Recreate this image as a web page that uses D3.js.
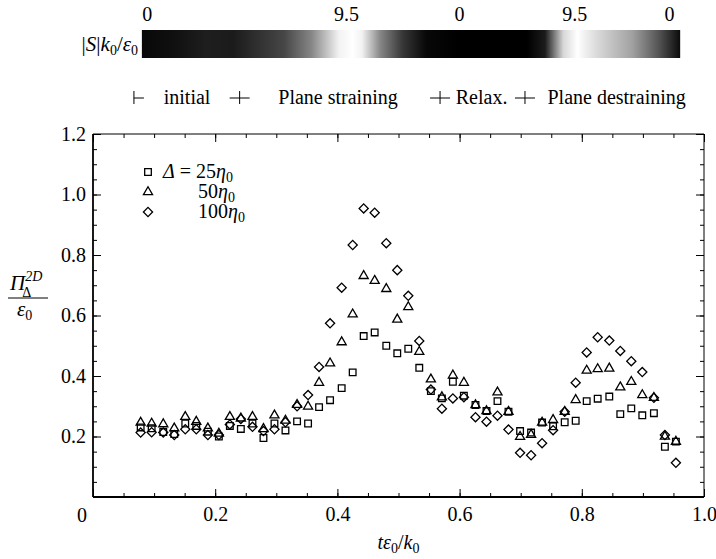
<!DOCTYPE html>
<html>
<head>
<meta charset="utf-8">
<script src="https://cdn.jsdelivr.net/npm/d3@7/dist/d3.min.js"></script>
<style>
  body { margin: 0; background: #fff; }
  text { font-family: "Liberation Serif", "Times New Roman", serif; fill: #000; }
</style>
</head>
<body>
<svg id="chart" width="716" height="559"></svg>
<script>
// time samples t*eps0/k0
var tVals = [0.078, 0.096, 0.115, 0.133, 0.151, 0.169, 0.188, 0.206, 0.224, 0.242,
             0.261, 0.279, 0.297, 0.315, 0.334, 0.352, 0.370, 0.388, 0.407, 0.425,
             0.443, 0.461, 0.480, 0.498, 0.516, 0.534, 0.553, 0.571, 0.589, 0.607,
             0.626, 0.644, 0.662, 0.680, 0.699, 0.717, 0.735, 0.753, 0.772, 0.790,
             0.808, 0.826, 0.845, 0.863, 0.881, 0.899, 0.918, 0.936, 0.954];
// Delta = 25 eta0 (squares)
var sq25 = [0.230, 0.227, 0.215, 0.208, 0.243, 0.235, 0.216, 0.200, 0.235, 0.225,
            0.243, 0.195, 0.243, 0.220, 0.250, 0.243, 0.297, 0.320, 0.360, 0.412,
            0.532, 0.544, 0.500, 0.475, 0.490, 0.427, 0.350, 0.326, 0.381, 0.335,
            0.304, 0.284, 0.317, 0.282, 0.218, 0.213, 0.246, 0.234, 0.247, 0.252,
            0.317, 0.325, 0.332, 0.274, 0.293, 0.270, 0.277, 0.166, 0.183];
// 50 eta0 (triangles)
var tri50 = [0.246, 0.243, 0.241, 0.227, 0.265, 0.249, 0.227, 0.210, 0.265, 0.260,
             0.265, 0.225, 0.270, 0.253, 0.305, 0.299, 0.378, 0.442, 0.512, 0.604,
             0.731, 0.715, 0.688, 0.587, 0.628, 0.480, 0.389, 0.330, 0.402, 0.378,
             0.304, 0.284, 0.346, 0.282, 0.199, 0.206, 0.246, 0.255, 0.282, 0.321,
             0.418, 0.423, 0.425, 0.363, 0.381, 0.337, 0.328, 0.200, 0.183];
// 100 eta0 (diamonds)
var dia100 = [0.213, 0.214, 0.213, 0.205, 0.224, 0.224, 0.205, 0.205, 0.240, 0.258,
              0.232, 0.218, 0.224, 0.247, 0.300, 0.337, 0.430, 0.574, 0.692, 0.833,
              0.954, 0.940, 0.839, 0.750, 0.665, 0.516, 0.355, 0.292, 0.326, 0.330,
              0.264, 0.249, 0.269, 0.223, 0.146, 0.138, 0.178, 0.221, 0.282, 0.378,
              0.478, 0.528, 0.517, 0.483, 0.449, 0.413, 0.328, 0.205, 0.113];

var xTickLabels = [0.2, 0.4, 0.6, 0.8, 1.0];
var yTickLabels = [0.2, 0.4, 0.6, 0.8, 1.0, 1.2];

// strain-rate bar: position along bar (0..1) and |S|k0/eps0
var barPos = [0, 0.06, 0.119, 0.17, 0.204, 0.264, 0.315, 0.366, 0.391, 0.409, 0.443, 0.485,
              0.528, 0.587, 0.715, 0.749, 0.783, 0.809, 0.843, 0.911, 0.962, 1];
var barS   = [0.3, 0.6, 1.1, 1.0, 1.6, 2.6, 5.0, 9.0, 9.5, 9.0, 5.0, 2.0,
              0.3, 0.0, 0.0, 1.0, 8.0, 9.5, 8.2, 6.0, 3.0, 0.4];
var barTickPos = [0.01, 0.38, 0.59, 0.804, 0.98];
var barTickText = ["0", "9.5", "0", "9.5", "0"];

// flow phases
var phaseMarkT = [0.067, 0.24, 0.568, 0.707];
var phaseNames = ["initial", "Plane straining", "Relax.", "Plane destraining"];
var phaseNameT = [0.154, 0.401, 0.636, 0.857];

var svg = d3.select("#chart");
var pLeft = 93, pRight = 704, pTop = 134, pBottom = 497;

var x = d3.scaleLinear().domain([0, 1]).range([pLeft, pRight]);
var y = d3.scaleLinear().domain([0, 1.2]).range([pBottom, pTop]);

// ---- strain bar ----
var barX0 = x(0.08), barX1 = x(0.961);
var grey = d3.scaleLinear().domain([0, 9.5]).range(["#000", "#fff"]);
var grad = svg.append("defs").append("linearGradient").attr("id", "sbar");
grad.selectAll("stop").data(barPos).enter().append("stop")
  .attr("offset", function(d) { return d * 100 + "%"; })
  .attr("stop-color", function(d, i) { return grey(barS[i]); });
svg.append("rect")
  .attr("x", barX0).attr("y", 30)
  .attr("width", barX1 - barX0).attr("height", 28)
  .attr("fill", "url(#sbar)");
var barScale = d3.scaleLinear().domain([0, 1]).range([barX0, barX1]);
svg.selectAll(".btick").data(barTickPos).enter().append("text")
  .attr("x", function(d) { return barScale(d); })
  .attr("y", 21).attr("text-anchor", "middle")
  .style("font-size", "20px")
  .text(function(d, i) { return barTickText[i]; });

var sLab = svg.append("text").attr("x", 138).attr("y", 51)
  .attr("text-anchor", "end").style("font-size", "21px");
sLab.append("tspan").text("|");
sLab.append("tspan").style("font-style", "italic").text("S");
sLab.append("tspan").text("|");
sLab.append("tspan").style("font-style", "italic").text("k");
sLab.append("tspan").attr("dy", 4).style("font-size", "14px").text("0");
sLab.append("tspan").attr("dy", -4).text("/");
sLab.append("tspan").style("font-style", "italic").text("ε");
sLab.append("tspan").attr("dy", 4).style("font-size", "14px").text("0");

// ---- phase labels ----
var py = 98;
var marks = svg.append("g").attr("stroke", "#000").attr("stroke-width", 1);
phaseMarkT.forEach(function(t, i) {
  var mx = x(t);
  marks.append("line").attr("x1", mx).attr("x2", mx).attr("y1", py - 7).attr("y2", py + 6);
  marks.append("line").attr("x1", mx).attr("x2", mx + 10).attr("y1", py).attr("y2", py);
  if (i > 0) marks.append("line").attr("x1", mx - 10).attr("x2", mx).attr("y1", py).attr("y2", py);
});
svg.selectAll(".phase").data(phaseNames).enter().append("text")
  .attr("x", function(d, i) { return x(phaseNameT[i]); })
  .attr("y", py + 6).attr("text-anchor", "middle")
  .style("font-size", "20px")
  .text(function(d) { return d; });

// ---- axes (inward ticks on all sides) ----
var minorT = d3.range(0, 21).map(function(i) { return i * 0.05; });
var minorY = d3.range(0, 25).map(function(i) { return i * 0.05; });
var majorX = [0, 0.2, 0.4, 0.6, 0.8, 1.0];

function tickAxis(axisFn, scale, vals, size, tr) {
  var g = svg.append("g").attr("transform", tr)
    .call(axisFn(scale).tickValues(vals).tickSize(size).tickFormat(""));
  g.select(".domain").remove();
  g.selectAll("line").attr("stroke", "#000").attr("stroke-width", 1);
}
tickAxis(d3.axisBottom, x, minorT, -4, "translate(0," + pBottom + ")");
tickAxis(d3.axisBottom, x, majorX, -8, "translate(0," + pBottom + ")");
tickAxis(d3.axisTop, x, minorT, -4, "translate(0," + pTop + ")");
tickAxis(d3.axisTop, x, majorX, -8, "translate(0," + pTop + ")");
tickAxis(d3.axisLeft, y, minorY, -4, "translate(" + pLeft + ",0)");
tickAxis(d3.axisLeft, y, yTickLabels, -8, "translate(" + pLeft + ",0)");
tickAxis(d3.axisRight, y, minorY, -4, "translate(" + pRight + ",0)");
tickAxis(d3.axisRight, y, yTickLabels, -8, "translate(" + pRight + ",0)");

// frame
svg.append("line").attr("x1", pLeft).attr("x2", pRight).attr("y1", pTop).attr("y2", pTop)
  .attr("stroke", "#000").attr("stroke-width", 1);
svg.append("line").attr("x1", pRight).attr("x2", pRight).attr("y1", pTop).attr("y2", pBottom)
  .attr("stroke", "#000").attr("stroke-width", 1);
svg.append("line").attr("x1", pLeft).attr("x2", pRight).attr("y1", pBottom).attr("y2", pBottom)
  .attr("stroke", "#000").attr("stroke-width", 1.8);
svg.append("line").attr("x1", pLeft).attr("x2", pLeft).attr("y1", pTop).attr("y2", pBottom)
  .attr("stroke", "#000").attr("stroke-width", 1.8);

// tick labels
var fmt = d3.format(".1f");
var xl = svg.append("g").attr("transform", "translate(0," + pBottom + ")")
  .call(d3.axisBottom(x).tickValues(xTickLabels).tickSize(0).tickPadding(10).tickFormat(fmt));
xl.select(".domain").remove();
xl.selectAll("text").style("font-size", "20px").style("font-family", "Liberation Serif");
var yl = svg.append("g").attr("transform", "translate(" + pLeft + ",0)")
  .call(d3.axisLeft(y).tickValues(yTickLabels).tickSize(0).tickPadding(7).tickFormat(fmt));
yl.select(".domain").remove();
yl.selectAll("text").style("font-size", "20px").style("font-family", "Liberation Serif");
svg.append("text").attr("x", 82).attr("y", 522).attr("text-anchor", "middle")
  .style("font-size", "20px").text("0");

// axis titles
var xt = svg.append("text").attr("x", x(0.5)).attr("y", 549).attr("text-anchor", "middle")
  .style("font-size", "20px");
xt.append("tspan").style("font-style", "italic").text("tε");
xt.append("tspan").attr("dy", 4).style("font-size", "14px").text("0");
xt.append("tspan").attr("dy", -4).text("/");
xt.append("tspan").style("font-style", "italic").text("k");
xt.append("tspan").attr("dy", 4).style("font-size", "14px").text("0");

var fy = 298;
var num = svg.append("text").attr("x", 10).attr("y", fy - 8).style("font-size", "21px");
num.append("tspan").style("font-style", "italic").text("Π");
num.append("tspan").attr("dy", -9).style("font-size", "14px").style("font-style", "italic").text("2D");
num.append("tspan").attr("dx", -20).attr("dy", 16).style("font-size", "14px").text("Δ");
svg.append("line").attr("x1", 8).attr("x2", 48).attr("y1", fy).attr("y2", fy)
  .attr("stroke", "#000").attr("stroke-width", 1);
var den = svg.append("text").attr("x", 17).attr("y", fy + 18).style("font-size", "21px");
den.append("tspan").style("font-style", "italic").text("ε");
den.append("tspan").attr("dy", 4).style("font-size", "14px").text("0");

// ---- markers ----
var series = [
  { vals: sq25, sym: d3.symbolSquare, size: 44, rot: 0 },
  { vals: tri50, sym: d3.symbolTriangle, size: 36, rot: 0 },
  { vals: dia100, sym: d3.symbolSquare, size: 42, rot: 45 }
];
series.forEach(function(s) {
  var path = d3.symbol().type(s.sym).size(s.size);
  svg.append("g").selectAll("path").data(s.vals).enter().append("path")
    .attr("d", path)
    .attr("transform", function(d, i) {
      return "translate(" + x(tVals[i]) + "," + y(d) + ") rotate(" + s.rot + ")";
    })
    .attr("fill", "none").attr("stroke", "#000").attr("stroke-width", 1.3);
});

// ---- legend ----
var legY = [172, 192, 212];
series.forEach(function(s, i) {
  svg.append("path")
    .attr("d", d3.symbol().type(s.sym).size(s.size)())
    .attr("transform", "translate(148," + legY[i] + ") rotate(" + s.rot + ")")
    .attr("fill", "none").attr("stroke", "#000").attr("stroke-width", 1.3);
});
var l1 = svg.append("text").attr("x", 163).attr("y", legY[0] + 6).style("font-size", "20px");
l1.append("tspan").style("font-style", "italic").text("Δ");
l1.append("tspan").text(" = 25");
l1.append("tspan").style("font-style", "italic").text("η");
l1.append("tspan").attr("dy", 4).style("font-size", "14px").text("0");
var l2 = svg.append("text").attr("x", 198).attr("y", legY[1] + 6).style("font-size", "20px");
l2.append("tspan").text("50");
l2.append("tspan").style("font-style", "italic").text("η");
l2.append("tspan").attr("dy", 4).style("font-size", "14px").text("0");
var l3 = svg.append("text").attr("x", 198).attr("y", legY[2] + 6).style("font-size", "20px");
l3.append("tspan").text("100");
l3.append("tspan").style("font-style", "italic").text("η");
l3.append("tspan").attr("dy", 4).style("font-size", "14px").text("0");
</script>
</body>
</html>
